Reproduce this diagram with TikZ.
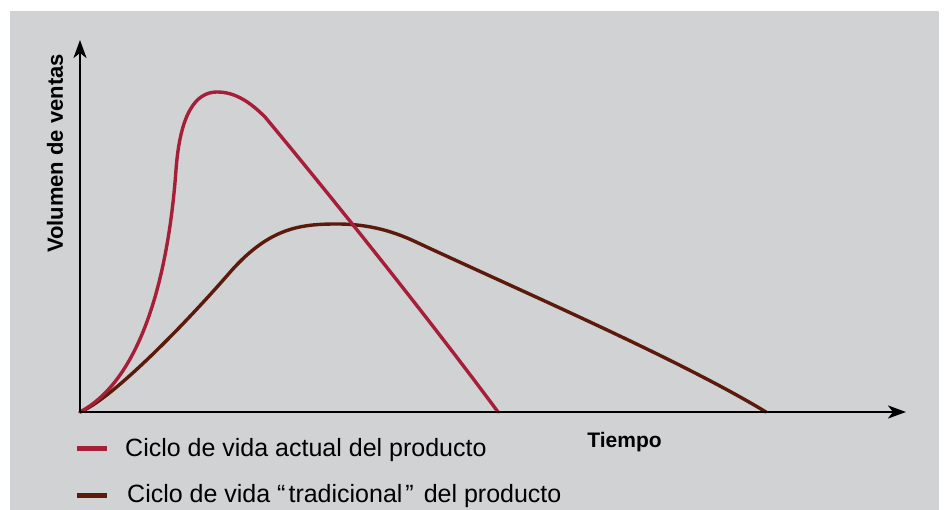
\documentclass[tikz,border=0pt]{standalone}
\usepackage{fontspec}
\setmainfont{Liberation Sans}
\usepackage{tikz}
\usetikzlibrary{arrows.meta}
\usetikzlibrary{positioning}
\definecolor{fondo}{HTML}{D1D2D4}
\definecolor{rojo}{HTML}{A61E38}
\definecolor{marron}{HTML}{5B1A0B}

\begin{document}
\begin{tikzpicture}
      [x=1pt,y=1pt,
      eje/.style={line width=2.6pt,-{Stealth[length=18pt,width=13pt,inset=5pt]}},
      curva/.style={line width=3.4pt,line cap=round},
      raya/.style={line width=5pt},
      every node/.style={inner sep=0pt,text=black}]
\useasboundingbox (0,0) rectangle (944,510);
\fill[fondo] (10,0) rectangle (939,499);

\coordinate (origen) at (80,98);
\coordinate (ejey) at (80,470);
\coordinate (ejex) at (906,98);

% ciclo tradicional
\draw[curva,marron] (origen) .. controls (110,110) and (180,180) .. (232,240)
   .. controls (270,282) and (300,286) .. (337,286)
   .. controls (370,286) and (395,278) .. (416,268)
   .. controls (530,215) and (680,150) .. (766,98);
% ciclo actual
\draw[curva,rojo] (origen) .. controls (140,130) and (168,230) .. (176,340)
   .. controls (180,395) and (195,418) .. (217,418)
   .. controls (235,418) and (250,408) .. (265,393)
   .. controls (330,315) and (430,190) .. (498,98);

\draw[eje] (origen) -- (ejey);
\draw[eje] (origen) -- (ejex);

\node[rotate=90,font=\bfseries\fontsize{22}{24}\selectfont] (volumen) at (55,356.5) {Volumen de ventas};
\node[anchor=base,font=\bfseries\fontsize{21}{24}\selectfont] (tiempo) at (624.5,62) {Tiempo};

\draw[raya,rojo] (77,61) -- (107,61);
\node[anchor=base west,font=\fontsize{25}{30}\selectfont] (actual) at (125,53) {Ciclo de vida actual del producto};
\draw[raya,marron] (77,14.5) -- (107,14.5);
\node[anchor=base west,font=\fontsize{25}{30}\selectfont] (tradicional) at (127,7) {Ciclo de vida “\kern3pt tradicional\kern3pt”\kern3pt{} del producto};

\end{tikzpicture}
\end{document}
